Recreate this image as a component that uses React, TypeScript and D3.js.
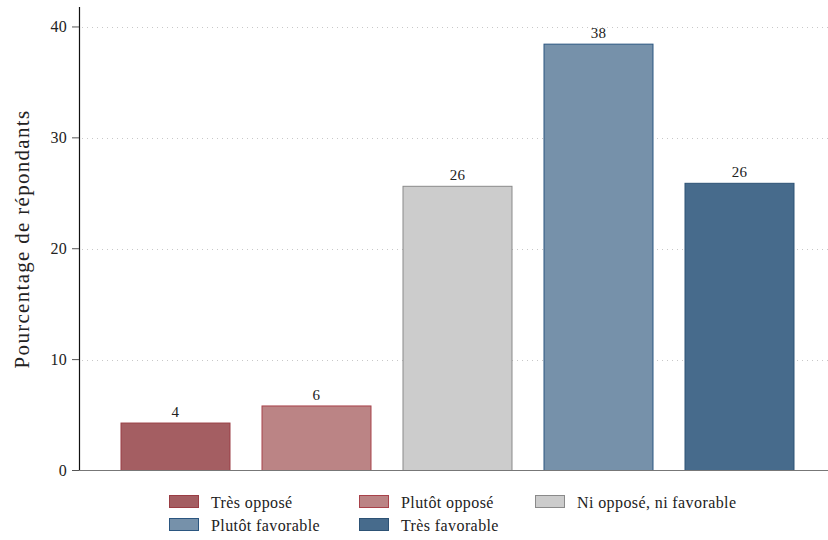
import React from 'react'
import * as d3 from 'd3'

// réponses (pourcentages)
const categories = ['Très opposé', 'Plutôt opposé', 'Ni opposé, ni favorable', 'Plutôt favorable', 'Très favorable']
const values = [4.28, 5.82, 25.63, 38.45, 25.9]
const fills = ['#a45e62', '#bb8485', '#cccccc', '#7691aa', '#476b8c']
const strokes = ['#9a3d44', '#a8424a', '#8a8a8a', '#2b5680', '#2d5275']
const yTicks = [0, 10, 20, 30, 40]

const W = 828
const H = 540
const FONT = '"Liberation Serif", "DejaVu Serif", serif'

export default function App() {
	const x = d3.scaleBand<string>().domain(categories).range([105, 810]).paddingInner(0.227).paddingOuter(0.1135)
	const y = d3.scaleLinear().domain([0, 41.8]).range([470.5, 7])

	// légende sur 3 colonnes
	const legendCols = [169, 359, 535]
	const legendRows = [495, 518]

	return (
		<svg width={W} height={H} style={{ position: 'absolute', left: 0, top: 0, fontFamily: FONT }}>
			<rect width={W} height={H} fill="#fff" />
			{yTicks.filter(t => t > 0).map(t => (
				<line key={t} x1={82} x2={W} y1={Math.round(y(t)) + 0.5} y2={Math.round(y(t)) + 0.5}
					stroke="#c8c8c8" strokeWidth={1} strokeDasharray="1 4" />
			))}
			{categories.map((c, i) => (
				<g key={c}>
					<rect x={x(c)} y={y(values[i])} width={x.bandwidth()} height={y(0) - y(values[i])}
						fill={fills[i]} stroke={strokes[i]} strokeWidth={1} />
					<text x={x(c)! + x.bandwidth() / 2} y={y(values[i]) - 6} textAnchor="middle"
						fontSize={15} letterSpacing={0.3} fill="#222">{Math.round(values[i])}</text>
				</g>
			))}
			<line x1={79.5} x2={79.5} y1={7} y2={471} stroke="#111" strokeWidth={1.2} />
			<line x1={72} x2={W} y1={470.5} y2={470.5} stroke="#777" strokeWidth={1.2} />
			{yTicks.map(t => (
				<g key={t}>
					<line x1={72} x2={79} y1={y(t)} y2={y(t)} stroke="#555" strokeWidth={1} />
					<text x={67} y={y(t) + 5} textAnchor="end" fontSize={16} letterSpacing={0.3} fill="#222">{t}</text>
				</g>
			))}
			<text transform={`translate(29, ${239}) rotate(-90)`} textAnchor="middle" fontSize={21}
				letterSpacing={1.3} fill="#222">
				Pourcentage de répondants
			</text>
			{categories.map((c, i) => {
				const col = i < 3 ? i : i - 3
				const row = i < 3 ? 0 : 1
				const lx = legendCols[col]
				const ly = legendRows[row]
				return (
					<g key={'l' + c}>
						<rect x={lx + 0.5} y={ly + 0.5} width={29} height={12} fill={fills[i]} stroke={strokes[i]} strokeWidth={1} />
						<text x={lx + 42} y={ly + 13} fontSize={16} letterSpacing={0.4} fill="#222">{c}</text>
					</g>
				)
			})}
		</svg>
	)
}
